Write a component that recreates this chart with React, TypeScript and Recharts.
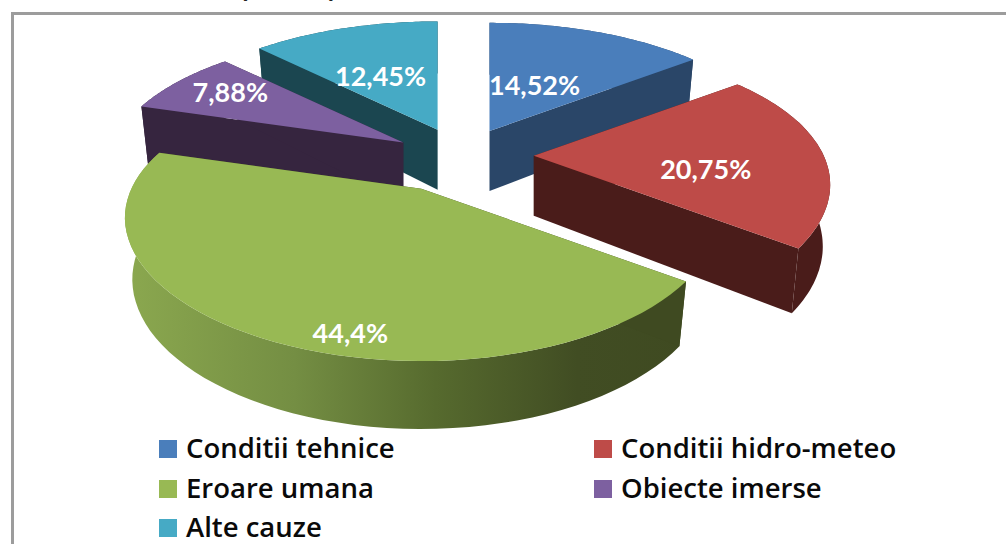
import { PieChart, Pie } from "recharts";

const categories = ["Conditii tehnice", "Conditii hidro-meteo", "Eroare umana", "Obiecte imerse", "Alte cauze"];
const shares = [14.52, 20.75, 44.4, 7.88, 12.45];
const shareLabels = ["14,52%", "20,75%", "44,4%", "7,88%", "12,45%"];
const topColors = ["#4a7ebb", "#be4b48", "#98b954", "#7d60a0", "#46aac5"];
const wallColors = ["#2a4668", "#4a1c1a", "#3f4a21", "#36253f", "#1b4650"];
const explode = [0.2, 0.244, 0.31, 0.24, 0.23];

// back to front, the pie is tilted so slices have to overlap in this order
const paintOrder = [4, 0, 3, 1, 2];
// small corrections of the slice tip, and label centre relative to the tip
const tipNudge = [[1, 0], [0, 1], [-1, -3], [0, 4], [0, 3]];
const labelOffsets = [[45, -47], [172, 13], [-71, 144], [-173, -51], [-57, -54]];

const pieData = categories.map((name, i) => ({ name, value: shares[i] }));

const RY = 133;
const TILT_X = 0.207;
const TILT_Y = 0.228;
const DEPTH = 60;

const rad = (d: number) => (d * Math.PI) / 180;

const Slice3D = (props: any) => {
    const { cx, cy, outerRadius, startAngle, endAngle, midAngle, name } = props;
    const i = categories.indexOf(name);
    const rx = outerRadius;

    // tip of the slice after pulling it out along its middle angle
    const tipX = cx + explode[i] * rx * Math.cos(rad(midAngle)) + tipNudge[i][0];
    const tipY = cy - explode[i] * RY * Math.sin(rad(midAngle)) + tipNudge[i][1];

    const top = (a: number) => {
        const u = Math.cos(rad(a));
        const v = Math.sin(rad(a));
        return [tipX + (rx * u) / (1 + TILT_X * v), tipY - (RY * v) / (1 + TILT_Y * v), v];
    };
    const bottom = (a: number) => {
        const [x, y, v] = top(a);
        return [tipX + (x - tipX) * 0.975, y + DEPTH - 8 * v];
    };

    const steps = 60;
    const angles: number[] = [];
    for (let s = 0; s <= steps; s++) angles.push(startAngle + ((endAngle - startAngle) * s) / steps);

    const toPath = (pts: number[][]) => "M" + pts.map((p) => `${p[0].toFixed(1)},${p[1].toFixed(1)}`).join("L") + "Z";

    const tip = [tipX, tipY];
    const tipLow = [tipX, tipY + DEPTH];
    const topArc = angles.map(top);
    const lowArc = angles.map(bottom);

    const wallFill = name === "Eroare umana" ? "url(#greenWall)" : wallColors[i];

    return (
        <g>
            {name === "Eroare umana" && (
                <defs>
                    <linearGradient id="greenWall" gradientUnits="userSpaceOnUse" x1={125} x2={690} y1={0} y2={0}>
                        <stop offset="0" stopColor="#8ba84f" />
                        <stop offset="0.3" stopColor="#748e43" />
                        <stop offset="0.55" stopColor="#566a2e" />
                        <stop offset="0.8" stopColor="#414d23" />
                        <stop offset="1" stopColor="#3f4a21" />
                    </linearGradient>
                </defs>
            )}
            <path d={toPath([...topArc, ...[...lowArc].reverse()])} fill={wallFill} />
            <path d={toPath([tip, topArc[0], lowArc[0], tipLow])} fill={wallColors[i]} />
            <path d={toPath([tip, topArc[steps], lowArc[steps], tipLow])} fill={wallColors[i]} />
            <path d={toPath([tip, ...topArc])} fill={topColors[i]} />
            <text
                x={tipX + labelOffsets[i][0]}
                y={tipY + labelOffsets[i][1]}
                fill="#fff"
                fontFamily="Lato, sans-serif"
                fontWeight={700}
                fontSize={27}
                textAnchor="middle"
                dominantBaseline="central"
            >
                {shareLabels[i]}
            </text>
        </g>
    );
};

const LegendRow = ({ i, left, top }: { i: number; left: number; top: number }) => (
    <div style={{ position: "absolute", left, top, height: 20 }}>
        <div style={{ position: "absolute", left: 0, top: 0, width: 18, height: 18, background: topColors[i] }} />
        <div style={{
            position: "absolute", left: 27, top: -8, fontSize: 27.5, lineHeight: "32px", whiteSpace: "nowrap",
            fontFamily: "'Open Sans', sans-serif", fontWeight: 600, color: "#0a0a0a",
        }}>
            {categories[i]}
        </div>
    </div>
);

// what is left of the line of text cut off above the frame
const CutText = ({ ch, left }: { ch: string; left: number }) => (
    <div style={{
        position: "absolute", left, top: -24, fontSize: 22, lineHeight: "26px",
        fontFamily: "'Liberation Sans', sans-serif", fontWeight: 700, color: "#222",
    }}>
        {ch}
    </div>
);

export default function App() {
    return (
        <div style={{ position: "absolute", left: 0, top: 0, width: 1006, height: 544, overflow: "hidden", background: "#fff" }}>
            <CutText ch="(" left={240} />
            <CutText ch=")" left={329} />
            <CutText ch="," left={462} />
            <div style={{
                position: "absolute", left: 11, top: 12, width: 1100, height: 600,
                border: "3px solid #9c9c9c", boxSizing: "border-box",
            }} />
            <PieChart width={1006} height={544} margin={{ top: 0, right: 0, bottom: 0, left: 0 }} style={{ position: "absolute", left: 0, top: 0 }}>
                {paintOrder.map((idx) => (
                    <Pie
                        key={idx}
                        data={pieData}
                        dataKey="value"
                        nameKey="name"
                        cx={463}
                        cy={155}
                        innerRadius={0}
                        outerRadius={290}
                        startAngle={90}
                        endAngle={-270}
                        stroke="none"
                        isAnimationActive={false}
                        shape={(p: any) => (p.name === categories[idx] ? <Slice3D {...p} /> : <g />)}
                    />
                ))}
            </PieChart>
            <LegendRow i={0} left={159} top={440} />
            <LegendRow i={1} left={594} top={440} />
            <LegendRow i={2} left={159} top={480} />
            <LegendRow i={3} left={594} top={480} />
            <LegendRow i={4} left={159} top={519} />
        </div>
    );
}
